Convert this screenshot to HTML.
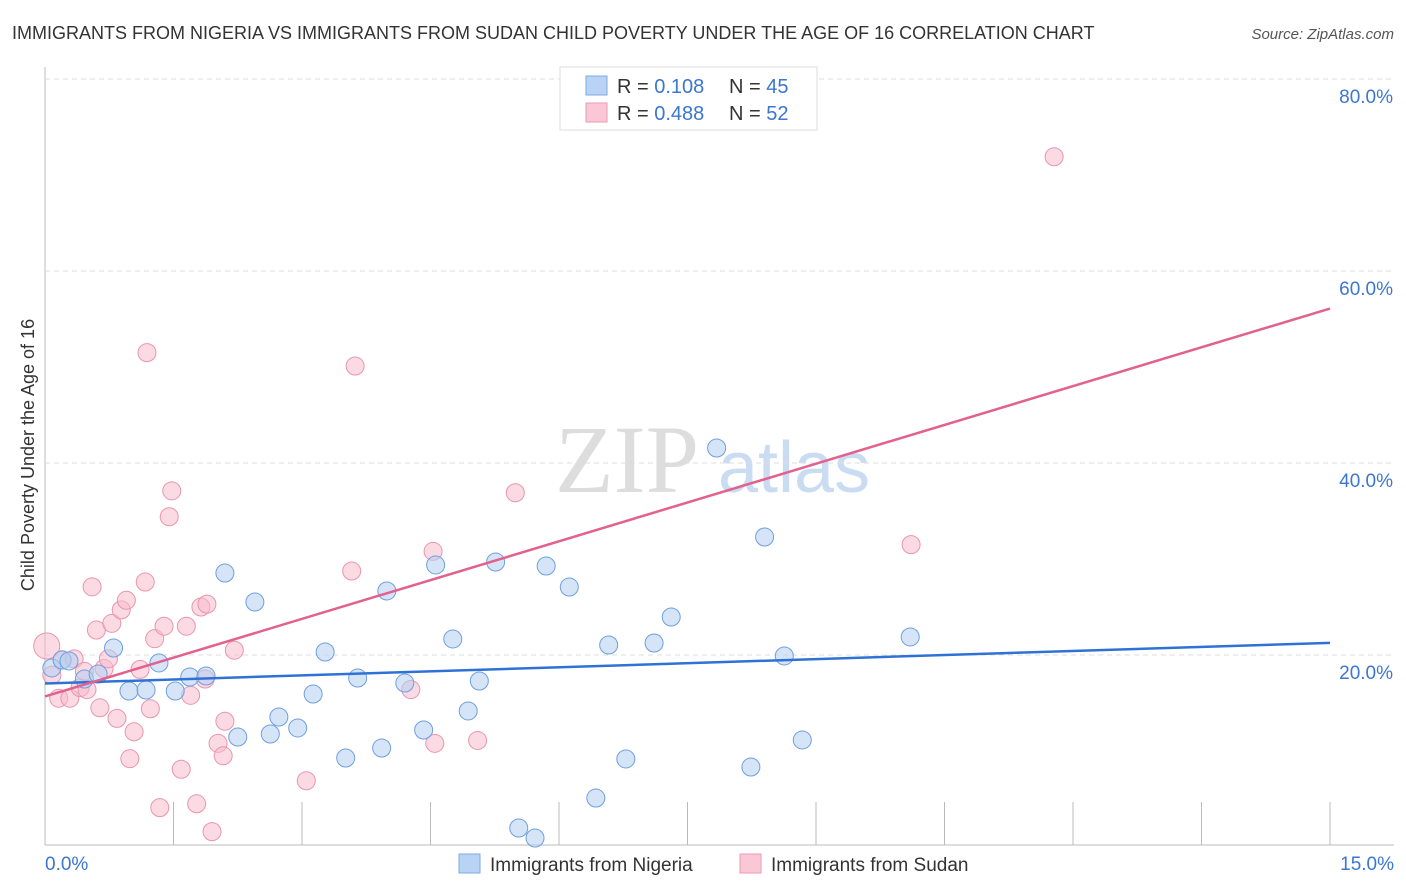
<!DOCTYPE html>
<html><head><meta charset="utf-8"><style>
body{margin:0;background:#fff;font-family:"Liberation Sans",sans-serif;}
#wrap{position:relative;width:1406px;height:892px;overflow:hidden;}
</style></head><body>
<div id="wrap">
<svg id="chart" width="1406" height="892">
<text x="12" y="39" font-size="18" fill="#333">IMMIGRANTS FROM NIGERIA VS IMMIGRANTS FROM SUDAN CHILD POVERTY UNDER THE AGE OF 16 CORRELATION CHART</text>
<text x="1394" y="39" font-size="15" fill="#555" font-style="italic" text-anchor="end">Source: ZipAtlas.com</text>
<text x="555" y="492" font-size="96" fill="#ddd" font-family="Liberation Serif">ZIP</text>
<text x="718" y="492" font-size="72" fill="#c9dcf2">atlas</text>
<text transform="translate(34,455) rotate(-90)" font-size="18" fill="#333" text-anchor="middle">Child Poverty Under the Age of 16</text>
<g id="grid"></g><g id="pts"></g><g id="lines"></g>
<g>
<rect x="560" y="67" width="257" height="63" fill="#fff" stroke="#ddd"/>
<rect x="586" y="76" width="21" height="19" fill="#b8d3f3" stroke="#7ea9e0"/>
<rect x="586" y="103" width="21" height="19" fill="#f9c7d6" stroke="#ee9ab3"/>
<text x="617" y="93" font-size="20" fill="#333">R = <tspan fill="#3b76d0">0.108</tspan></text>
<text x="729" y="93" font-size="20" fill="#333">N = <tspan fill="#3b76d0">45</tspan></text>
<text x="617" y="120" font-size="20" fill="#333">R = <tspan fill="#3b76d0">0.488</tspan></text>
<text x="729" y="120" font-size="20" fill="#333">N = <tspan fill="#3b76d0">52</tspan></text>
</g>
<g>
<rect x="459" y="854" width="21" height="19" fill="#b8d3f3" stroke="#7ea9e0"/>
<text x="490" y="871" font-size="19" fill="#333">Immigrants from Nigeria</text>
<rect x="740" y="854" width="21" height="19" fill="#f9c7d6" stroke="#ee9ab3"/>
<text x="771" y="871" font-size="19" fill="#333">Immigrants from Sudan</text>
</g>
</svg>
</div>
<script>
const xTicks=[0,1.5,3,4.5,6,7.5,9,10.5,12,13.5,15];
const yTicks=[20,40,60,80];
const nigX=[0.08,0.20,0.28,0.46,0.62,0.80,0.98,1.18,1.33,1.52,1.69,1.88,2.10,2.25,2.45,2.63,2.73,2.95,3.13,3.27,3.51,3.65,3.93,3.99,4.20,4.42,4.56,4.76,4.94,5.07,5.26,5.53,5.72,5.85,6.12,6.43,6.58,6.78,7.11,7.31,7.84,8.24,8.40,8.63,8.84,10.10];
const nigY=[18.65,19.48,19.38,17.5,18.02,20.73,16.25,16.35,19.17,16.25,17.71,17.81,28.54,11.46,25.52,11.77,13.54,12.40,15.94,20.31,9.27,17.60,10.31,26.67,17.08,12.19,29.38,21.67,14.17,17.29,29.69,1.98,0.94,29.27,27.08,5.10,21.04,9.17,21.25,23.96,41.56,8.33,32.29,19.90,11.15,21.88];
const sudX=[0.02,0.08,0.16,0.2,0.29,0.34,0.41,0.49,0.46,0.55,0.6,0.64,0.69,0.74,0.78,0.84,0.89,0.95,0.99,1.04,1.11,1.17,1.19,1.23,1.28,1.34,1.39,1.45,1.48,1.59,1.65,1.70,1.77,1.82,1.89,1.87,1.95,2.02,2.08,2.10,2.21,3.05,3.58,3.62,4.27,4.53,4.55,5.05,5.49,10.11,11.78];
const sudY=[20.94,17.9,15.5,19.5,15.5,19.6,16.6,16.4,18.3,27.1,22.6,14.5,18.6,19.6,23.3,13.4,24.7,25.7,9.2,12.0,18.5,27.6,51.5,14.4,21.7,4.1,23.0,34.4,37.1,8.1,23.0,15.8,4.5,25.0,25.3,17.5,1.6,10.8,9.5,13.1,20.5,6.9,28.75,50.1,16.4,30.8,10.8,11.1,36.9,31.5,71.9];
const NS='http://www.w3.org/2000/svg';
const X0=45,X1=1330,Y0=847,PPY=9.6;
const sx=v=>X0+(v/15)*(X1-X0), sy=v=>Y0-v*PPY;
function mk(t,a,p){const e=document.createElementNS(NS,t);for(const k in a)e.setAttribute(k,a[k]);p.appendChild(e);return e;}
const grid=document.getElementById('grid');
mk('line',{x1:45,y1:67,x2:45,y2:845,stroke:'#bbb'},grid);
mk('line',{x1:45,y1:845,x2:1394,y2:845,stroke:'#bbb'},grid);
yTicks.forEach(v=>{
 const l=mk('line',{x1:45,x2:1394,y1:sy(v),y2:sy(v),stroke:'#ddd','stroke-dasharray':'5,4'},grid);
 
 
 const t=mk('text',{x:1393,y:sy(v)+24,'font-size':19,fill:'#3b76d0','text-anchor':'end'},grid);
 t.textContent=v.toFixed(1)+'%';
 
 
});
xTicks.forEach((v,i)=>{
 if(i>0){const l=mk('line',{x1:sx(v),x2:sx(v),y1:802,y2:845,stroke:'#bbb'},grid);
 
 }
});
[[0,45,'start'],[15,1394,'end']].forEach(([v,x,a])=>{
 const t=mk('text',{x:x,y:870,'font-size':19,fill:'#3b76d0','text-anchor':a},grid);
 t.textContent=v.toFixed(1)+'%';
 
 
});
const pts=document.getElementById('pts');
function series(xs,ys,fill,stroke,name){
 xs.forEach((x,i)=>{
  const c=mk('circle',{cx:sx(x),cy:sy(ys[i]),r:(i===0&&name==='sudan-point')?13:9,fill:fill,'fill-opacity':0.55,stroke:stroke,'stroke-width':1},pts);
  
  
 });
}
series(sudX,sudY,'#f7bccd','#e995ae','sudan-point');
series(nigX,nigY,'#b3cff1','#6f9fe0','nigeria-point');
function fit(xs,ys){const n=xs.length;let mx=0,my=0;xs.forEach((x,i)=>{mx+=x;my+=ys[i];});mx/=n;my/=n;let sxy=0,sxx=0;xs.forEach((x,i)=>{sxy+=(x-mx)*(ys[i]-my);sxx+=(x-mx)*(x-mx);});const b=sxy/sxx;return [my-b*mx,b];}
const lines=document.getElementById('lines');
[[nigX,nigY,'#2f72d6','nigeria-trendline'],[sudX,sudY,'#e2618e','sudan-trendline']].forEach(([xs,ys,c,n])=>{
 const [a,b]=fit(xs,ys);
 const l=mk('line',{x1:sx(0),y1:sy(a),x2:sx(15),y2:sy(a+b*15),stroke:c,'stroke-width':2.5},lines);
 
 
});
</script>
</body></html>
